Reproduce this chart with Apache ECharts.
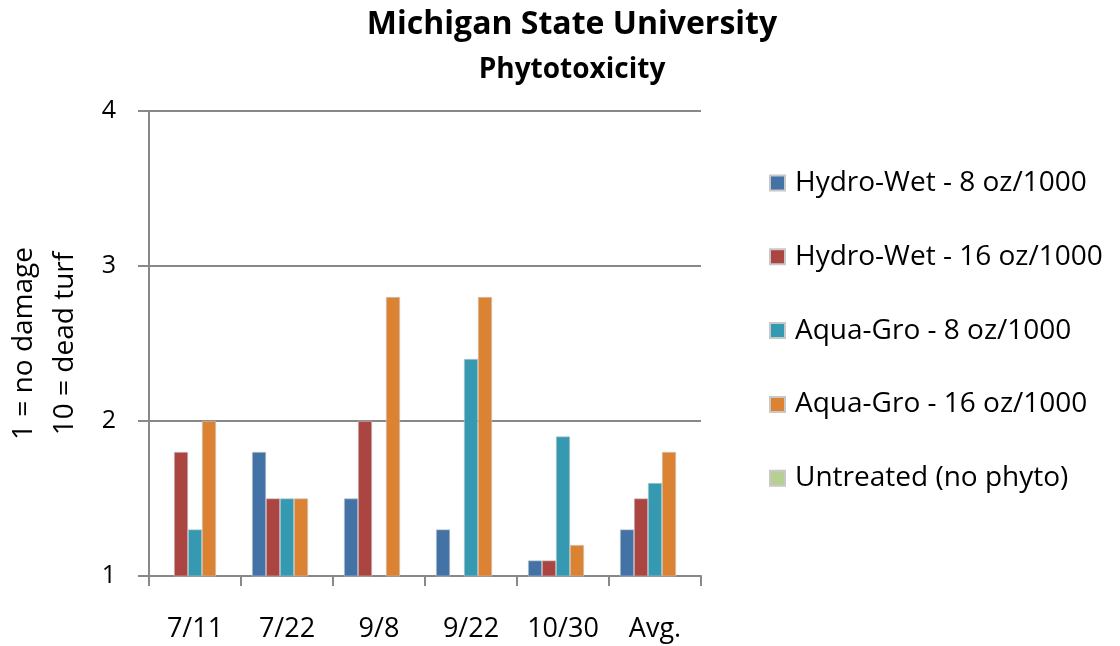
<html>
<head>
    <meta charset="utf-8">
    <title>Phytotoxicity</title>
    <script src="https://cdn.jsdelivr.net/npm/echarts@6/dist/echarts.min.js"></script>
</head>
<body style="margin:0">
    <div id="main" style="width:1120px;height:646px;"></div>
    <script type="text/javascript">
        // data
        var dates = ['7/11', '7/22', '9/8', '9/22', '10/30', 'Avg.'];
        var seriesNames = ['Hydro-Wet - 8 oz/1000', 'Hydro-Wet - 16 oz/1000', 'Aqua-Gro - 8 oz/1000', 'Aqua-Gro - 16 oz/1000', 'Untreated (no phyto)'];
        var hydroWet8 = [1.0, 1.8, 1.5, 1.3, 1.1, 1.3];
        var hydroWet16 = [1.8, 1.5, 2.0, 1.0, 1.1, 1.5];
        var aquaGro8 = [1.3, 1.5, 1.0, 2.4, 1.9, 1.6];
        var aquaGro16 = [2.0, 1.5, 2.8, 2.8, 1.2, 1.8];
        var untreated = [1, 1, 1, 1, 1, 1];
        var yTicks = [1, 2, 3, 4];

        var colors = ['#4372a7', '#ab4542', '#3599b1', '#db8233', '#b8cf92'];
        var font = '"Open Sans", sans-serif';

        var myChart = echarts.init(document.getElementById('main'));
        var allData = [hydroWet8, hydroWet16, aquaGro8, aquaGro16, untreated];
        var series = [];
        for (var i = 0; i < allData.length; i++) {
            series.push({
                name: seriesNames[i],
                type: 'bar',
                data: allData[i],
                barGap: 0,
                barCategoryGap: '24%',
                itemStyle: { color: colors[i], borderColor: '#c8c8c8', borderWidth: 0.6 }
            });
        }

        var option = {
            animation: false,
            color: colors,
            title: {
                text: 'Michigan State University',
                subtext: 'Phytotoxicity',
                left: 572,
                textAlign: 'center',
                top: 9,
                padding: 0,
                itemGap: 15,
                textStyle: { fontFamily: font, fontSize: 32, fontWeight: 'bold', color: '#000' },
                subtextStyle: { fontFamily: font, fontSize: 28, fontWeight: 'bold', color: '#000' }
            },
            legend: {
                orient: 'vertical',
                left: 769,
                top: 169,
                padding: 0,
                itemWidth: 15,
                itemHeight: 15,
                itemGap: 45.8,
                icon: 'rect',
                data: seriesNames,
                textStyle: { fontFamily: font, fontSize: 28, color: '#000', padding: [0, 0, 0, 5] }
            },
            grid: { left: 149, right: 419, top: 111, bottom: 70, outerBoundsMode: 'none' },
            xAxis: {
                type: 'category',
                data: dates,
                axisLine: { lineStyle: { color: '#888', width: 2 } },
                axisTick: { show: true, interval: 0, length: 10, lineStyle: { color: '#888', width: 2 } },
                axisLabel: { interval: 0, fontFamily: font, fontSize: 27, color: '#000', margin: 40 }
            },
            yAxis: {
                type: 'value',
                min: 1,
                max: 4,
                interval: 1,
                name: '1 = no damage\n10 = dead turf',
                nameLocation: 'middle',
                nameGap: 63,
                nameTextStyle: { fontFamily: font, fontSize: 28, color: '#000', lineHeight: 41 },
                axisLine: { show: true, lineStyle: { color: '#888', width: 2 } },
                axisTick: { show: true, length: 11, lineStyle: { color: '#888', width: 2 } },
                splitLine: { lineStyle: { color: '#888', width: 2 } },
                axisLabel: {
                    fontFamily: font, fontSize: 25, color: '#000', margin: 33,
                    formatter: function (v) { return yTicks.indexOf(v) >= 0 ? v : ''; }
                }
            },
            series: series
        };

        myChart.setOption(option);
    </script>
</body>
</html>
